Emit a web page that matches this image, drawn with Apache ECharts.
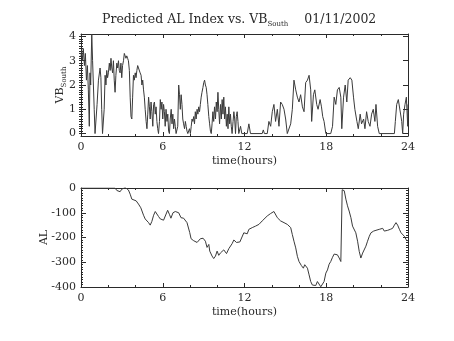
<!DOCTYPE html>
<html><head><meta charset="utf-8">
<script src="https://cdn.jsdelivr.net/npm/echarts@6/dist/echarts.min.js"></script>
<style>html,body{margin:0;padding:0;background:#fff}#c{width:454px;height:341px}</style>
</head><body><div id="c"></div>
<script>
const xTicks = [0, 6, 12, 18, 24];
const vbTicks = [0, 1, 2, 3, 4];
const alTicks = [0, -100, -200, -300, -400];

const vbHours = [0.00,0.05,0.10,0.17,0.25,0.32,0.40,0.47,0.54,0.61,0.66,0.71,0.79,0.85,0.91,0.97,1.03,1.10,1.18,1.28,1.40,1.46,1.52,1.58,1.64,1.70,1.77,1.83,1.89,1.95,2.01,2.08,2.14,2.20,2.26,2.32,2.38,2.44,2.50,2.56,2.63,2.69,2.75,2.81,2.87,2.93,2.99,3.05,3.12,3.18,3.24,3.30,3.36,3.42,3.48,3.55,3.61,3.67,3.73,3.79,3.85,3.91,3.98,4.04,4.10,4.16,4.22,4.28,4.34,4.41,4.47,4.53,4.59,4.65,4.71,4.78,4.84,4.90,4.96,5.02,5.08,5.14,5.20,5.27,5.33,5.39,5.45,5.51,5.57,5.63,5.69,5.76,5.82,5.88,5.94,6.00,6.06,6.12,6.18,6.24,6.31,6.37,6.43,6.49,6.55,6.62,6.68,6.74,6.80,6.86,6.92,6.98,7.04,7.10,7.17,7.23,7.29,7.35,7.41,7.47,7.53,7.60,7.66,7.72,7.78,7.84,7.90,7.96,8.03,8.09,8.15,8.21,8.27,8.33,8.39,8.45,8.52,8.58,8.64,8.70,8.76,8.82,8.88,8.95,9.01,9.07,9.13,9.19,9.25,9.31,9.38,9.44,9.50,9.56,9.62,9.68,9.74,9.80,9.87,9.93,9.99,10.05,10.11,10.17,10.24,10.30,10.36,10.42,10.48,10.54,10.60,10.67,10.73,10.79,10.85,10.91,10.97,11.03,11.09,11.16,11.22,11.28,11.34,11.40,11.46,11.52,11.58,11.71,11.80,12.20,12.32,12.44,13.30,13.38,13.46,13.67,13.79,13.92,14.04,14.16,14.28,14.41,14.53,14.65,14.77,14.90,15.02,15.14,15.27,15.39,15.51,15.63,15.76,15.88,16.00,16.12,16.25,16.37,16.49,16.62,16.74,16.86,16.93,17.06,17.16,17.30,17.40,17.55,17.65,17.74,17.84,17.97,18.33,18.46,18.58,18.70,18.82,18.95,19.07,19.14,19.27,19.39,19.51,19.61,19.76,19.88,20.00,20.10,20.25,20.35,20.49,20.59,20.74,20.84,20.96,21.08,21.21,21.33,21.45,21.57,21.65,21.77,21.89,23.00,23.07,23.17,23.29,23.41,23.54,23.61,23.68,23.78,23.88,23.98,24.00];
const vbValues = [3.2,3.4,3.0,3.5,2.8,3.3,2.2,2.8,1.8,0.3,2.5,2.0,4.1,3.0,2.0,1.0,0.0,0.0,1.2,2.2,2.7,2.3,1.0,0.0,0.0,1.0,2.4,2.0,2.6,2.3,2.5,2.9,2.6,3.1,2.7,2.5,3.0,2.2,1.7,2.4,2.9,2.7,3.0,2.6,2.5,2.9,2.3,2.8,3.0,3.3,3.2,3.1,3.2,3.1,3.0,2.6,1.5,0.7,0.6,1.5,2.4,2.2,2.5,2.3,2.6,2.8,2.7,2.7,2.5,2.4,2.0,2.2,1.8,1.5,1.0,0.5,0.2,0.8,1.5,1.1,0.6,1.3,0.9,0.3,1.2,1.3,0.8,1.1,0.5,0.2,0.0,0.5,1.4,1.0,1.3,0.6,1.2,0.9,0.3,1.0,0.5,0.8,0.1,0.0,0.6,1.0,0.4,0.8,0.2,0.6,0.3,0.0,0.0,0.3,2.0,1.6,1.0,1.6,1.2,0.6,0.4,0.2,0.5,0.3,0.1,0.0,0.0,0.2,0.0,0.3,0.6,0.5,0.7,0.4,0.9,0.6,1.0,0.8,1.1,0.9,1.2,1.5,1.7,1.9,2.1,2.2,2.0,1.9,1.6,1.2,0.7,0.4,0.1,0.0,0.4,0.9,0.5,1.1,0.6,1.3,0.9,1.7,1.0,0.4,1.2,0.6,1.4,0.8,1.5,0.6,1.1,0.3,0.8,0.2,1.1,0.4,0.8,0.3,0.0,0.5,0.9,0.6,0.0,0.7,0.9,0.5,0.0,0.3,0.0,0.0,0.4,0.0,0.0,0.15,0.0,0.0,0.5,0.3,0.9,1.2,0.5,1.0,0.3,1.3,1.2,1.0,0.6,0.0,0.0,0.4,1.0,2.2,1.8,1.5,1.3,1.6,1.1,0.9,2.1,2.2,2.4,1.8,0.5,1.6,1.8,1.2,1.0,1.4,1.1,0.7,0.5,0.0,0.0,0.3,1.5,1.2,1.8,1.9,1.5,0.2,1.5,2.0,1.3,2.2,2.3,2.2,1.5,1.0,0.5,0.2,0.8,0.4,0.6,0.2,0.9,0.5,0.3,0.8,1.0,0.5,1.2,0.3,0.0,0.0,0.5,1.2,1.4,1.4,0.5,0.0,0.8,1.2,1.5,0.3,1.2];

const alHours = [0,2.50,2.63,2.75,2.87,2.99,3.12,3.24,3.36,3.48,3.61,3.73,3.85,4.05,4.22,4.39,4.59,4.71,4.84,4.96,5.08,5.20,5.33,5.45,5.57,5.69,5.82,6.06,6.18,6.36,6.50,6.60,6.75,6.92,7.17,7.34,7.53,7.78,7.98,8.08,8.27,8.52,8.64,8.76,8.96,9.13,9.25,9.38,9.45,9.62,9.74,9.87,9.99,10.11,10.24,10.36,10.48,10.68,10.85,11.09,11.22,11.41,11.66,11.95,12.07,12.20,12.32,12.57,12.81,13.06,13.30,13.42,13.67,13.92,14.16,14.28,14.41,14.53,14.65,14.77,14.90,15.14,15.39,15.51,15.63,15.76,15.88,16.00,16.17,16.32,16.42,16.52,16.62,16.74,16.86,16.98,17.11,17.23,17.35,17.47,17.60,17.72,17.84,17.97,18.09,18.21,18.33,18.46,18.58,18.70,18.82,18.95,19.07,19.14,19.17,19.24,19.32,19.44,19.56,19.68,19.81,19.93,20.05,20.17,20.30,20.42,20.54,20.67,20.79,20.91,21.03,21.16,21.28,21.48,21.65,21.89,22.14,22.26,22.38,22.51,22.70,22.87,23.00,23.12,23.24,23.37,23.49,23.61,23.73,23.86,23.98];
const alValues = [0,0,-10,-3,-15,-5,-12,2,0,-8,-25,-45,-50,-52,-65,-80,-110,-125,-118,-140,-150,-135,-110,-95,-98,-115,-125,-130,-125,-90,-108,-122,-100,-95,-100,-120,-122,-140,-180,-205,-213,-220,-228,-205,-203,-215,-240,-228,-255,-275,-285,-275,-255,-272,-262,-255,-250,-265,-245,-225,-210,-220,-218,-181,-175,-185,-167,-160,-154,-147,-133,-128,-113,-103,-95,-92,-120,-112,-133,-126,-140,-147,-160,-188,-215,-242,-276,-297,-313,-324,-310,-303,-324,-351,-378,-392,-396,-394,-378,-371,-399,-403,-378,-344,-331,-308,-297,-280,-267,-267,-270,-283,-297,-300,-7,-5,-11,-45,-72,-93,-120,-154,-160,-181,-215,-256,-283,-263,-259,-235,-215,-195,-181,-174,-171,-167,-163,-174,-181,-171,-167,-163,-150,-140,-150,-167,-181,-187,-195,-208,-215];

const FONT = 'DejaVu Serif';
const INK = '#2a2a2a';
const vbData = vbHours.map((h, i) => [h, vbValues[i]]);
const alData = alHours.map((h, i) => [h, alValues[i]]);

function minorList(min, max, step) {
  const out = [];
  for (let v = min; v <= max + 1e-9; v += step) out.push(+v.toFixed(4));
  return out;
}

function xAx(grid, pos, showLabel) {
  return {
    type: 'value', gridIndex: grid, position: pos, min: 0, max: 24, interval: 6,
    axisLine: { show: true, onZero: false, lineStyle: { color: INK, width: 1 } },
    axisTick: { show: true, inside: true, length: 4, lineStyle: { color: INK } },
    minorTick: { show: true, splitNumber: 3, length: 2, lineStyle: { color: INK } },
    axisLabel: { show: showLabel, margin: 6, color: INK, fontFamily: FONT, fontSize: 11,
                 customValues: xTicks },
    splitLine: { show: false },
    name: showLabel ? 'time(hours)' : '', nameLocation: 'middle', nameGap: 20,
    nameMoveOverlap: false,
    nameTextStyle: { color: INK, fontFamily: FONT, fontSize: 11 }
  };
}

const option = {
  animation: false,
  backgroundColor: '#fff',
  title: {
    text: '{a|Predicted AL Index vs. VB}{s|South}{a|    01/11/2002}',
    left: 102, top: 11, padding: 0,
    textStyle: { fontWeight: 'normal', rich: {
      a: { fontFamily: FONT, fontSize: 12.5, color: INK, fontWeight: 'normal' },
      s: { fontFamily: FONT, fontSize: 7, color: INK, fontWeight: 'normal', padding: [10, 0, 0, 0] }
    } }
  },
  grid: [
    { left: 81, right: 46, top: 34, height: 102 },
    { left: 81, right: 46, top: 188, height: 99 }
  ],
  xAxis: [xAx(0, 'bottom', true), xAx(0, 'top', false), xAx(1, 'bottom', true), xAx(1, 'top', false)],
  yAxis: [
    { type: 'value', gridIndex: 0, position: 'left', min: -0.1, max: 4.1,
      axisLine: { show: true, onZero: false, lineStyle: { color: INK } },
      axisTick: { show: true, inside: true, length: 5, customValues: vbTicks, lineStyle: { color: INK } },
      axisLabel: { show: true, margin: 5, color: INK, fontFamily: FONT, fontSize: 11, customValues: vbTicks },
      splitLine: { show: false },
      name: '{a|VB}{s|South}', nameLocation: 'middle', nameRotate: 90, nameGap: 13,
      nameMoveOverlap: false,
      nameTextStyle: { rich: {
        a: { fontFamily: FONT, fontSize: 11, color: INK },
        s: { fontFamily: FONT, fontSize: 7, color: INK, padding: [9, 0, 0, 0] }
      } } },
    { type: 'value', gridIndex: 0, position: 'right', min: -0.1, max: 4.1,
      axisLine: { show: true, onZero: false, lineStyle: { color: INK } },
      axisTick: { show: true, inside: true, length: 5, customValues: vbTicks, lineStyle: { color: INK } },
      axisLabel: { show: false }, splitLine: { show: false } },
    { type: 'value', gridIndex: 0, position: 'left', min: -0.1, max: 4.1,
      axisLine: { show: false },
      axisTick: { show: true, inside: true, length: 2, customValues: minorList(0, 4, 0.1), lineStyle: { color: INK } },
      axisLabel: { show: false }, splitLine: { show: false } },
    { type: 'value', gridIndex: 0, position: 'right', min: -0.1, max: 4.1,
      axisLine: { show: false },
      axisTick: { show: true, inside: true, length: 2, customValues: minorList(0, 4, 0.1), lineStyle: { color: INK } },
      axisLabel: { show: false }, splitLine: { show: false } },
    { type: 'value', gridIndex: 1, position: 'left', min: -400, max: 0, interval: 100,
      axisLine: { show: true, onZero: false, lineStyle: { color: INK } },
      axisTick: { show: true, inside: true, length: 5, lineStyle: { color: INK } },
      minorTick: { show: true, splitNumber: 10, length: 2, lineStyle: { color: INK } },
      axisLabel: { show: true, margin: 5, color: INK, fontFamily: FONT, fontSize: 11, customValues: alTicks },
      splitLine: { show: false },
      name: 'AL', nameLocation: 'middle', nameRotate: 90, nameGap: 31,
      nameMoveOverlap: false,
      nameTextStyle: { color: INK, fontFamily: FONT, fontSize: 11 } },
    { type: 'value', gridIndex: 1, position: 'right', min: -400, max: 0, interval: 100,
      axisLine: { show: true, onZero: false, lineStyle: { color: INK } },
      axisTick: { show: true, inside: true, length: 5, lineStyle: { color: INK } },
      minorTick: { show: true, splitNumber: 10, length: 2, lineStyle: { color: INK } },
      axisLabel: { show: false }, splitLine: { show: false } }
  ],
  series: [
    { type: 'line', xAxisIndex: 0, yAxisIndex: 0, data: vbData, showSymbol: false,
      lineStyle: { color: '#3a3a3a', width: 1 } },
    { type: 'line', xAxisIndex: 2, yAxisIndex: 4, data: alData, showSymbol: false,
      lineStyle: { color: '#3a3a3a', width: 1 } }
  ]
};
const chart = echarts.init(document.getElementById('c'), null, { renderer: 'canvas' });
chart.setOption(option);
</script></body></html>
